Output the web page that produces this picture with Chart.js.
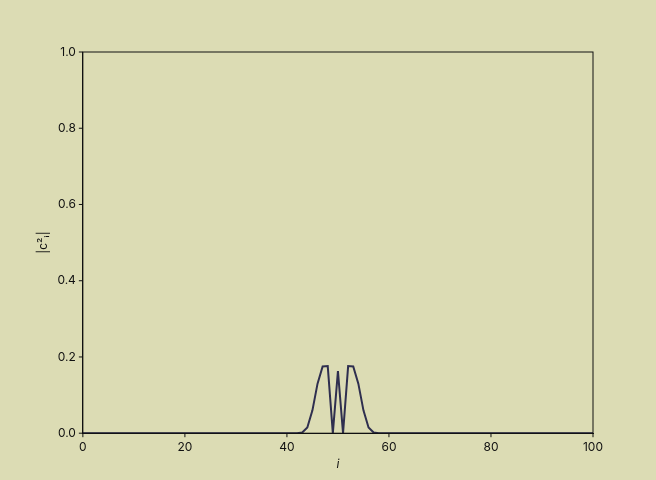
<!DOCTYPE html><html><head><script src="https://cdn.jsdelivr.net/npm/chart.js@4"></script>
<style>body{margin:0;background:#dcdcb4}#w{width:656px;height:480px}</style></head><body><div id="w"><canvas id="c"></canvas></div>
<script>
const idx=[];for(let i=0;i<=100;i++)idx.push(i);
const nonzero={43:0.002,44:0.015,45:0.06,46:0.13,47:0.175,48:0.176,49:0,50:0.163,51:0,52:0.176,53:0.175,54:0.13,55:0.06,56:0.015,57:0.002};
const vals=idx.map(i=>nonzero[i]!==undefined?nonzero[i]:0);
const xTicks=[0,20,40,60,80,100];
const yTicks=[0,0.2,0.4,0.6,0.8,1.0];
Chart.defaults.font.family='Inter, "DejaVu Sans", sans-serif';
Chart.defaults.color='#111';
new Chart(document.getElementById('c'),{type:'line',
data:{datasets:[{data:idx.map((x,k)=>({x,y:vals[k]})),borderColor:'#2f2f4f',borderWidth:2,pointRadius:0,tension:0}]},
options:{responsive:true,maintainAspectRatio:false,animation:false,
layout:{padding:{left:32,right:63,top:52,bottom:8}},
plugins:{legend:{display:false},tooltip:{enabled:false}},
scales:{
x:{type:'linear',min:0,max:100,afterBuildTicks:a=>{a.ticks=xTicks.map(v=>({value:v}))},
grid:{display:false,drawTicks:true,tickLength:4,color:'#111'},border:{color:'#111'},
ticks:{font:{size:12}},title:{display:true,text:'i',font:{size:12,style:'italic'},padding:0}},
y:{min:0,max:1,afterBuildTicks:a=>{a.ticks=yTicks.map(v=>({value:v}))},
grid:{display:false,tickLength:4},border:{color:'#111'},
ticks:{font:{size:12},callback:v=>v.toFixed(1)},title:{display:true,text:'|c²ᵢ|',font:{size:12}}}}},
plugins:[{id:'frame',afterDraw(c){const a=c.chartArea,x=c.ctx;x.save();x.strokeStyle='#111';x.lineWidth=1;x.strokeRect(a.left,a.top,a.right-a.left,a.bottom-a.top);
x.beginPath();const xs=c.scales.x,ys=c.scales.y;xTicks.forEach(v=>{const p=xs.getPixelForValue(v);x.moveTo(p,a.bottom);x.lineTo(p,a.bottom+4);});
yTicks.forEach(v=>{const p=ys.getPixelForValue(v);x.moveTo(a.left,p);x.lineTo(a.left-4,p);});x.stroke();x.restore();}}]
});
</script></body></html>
